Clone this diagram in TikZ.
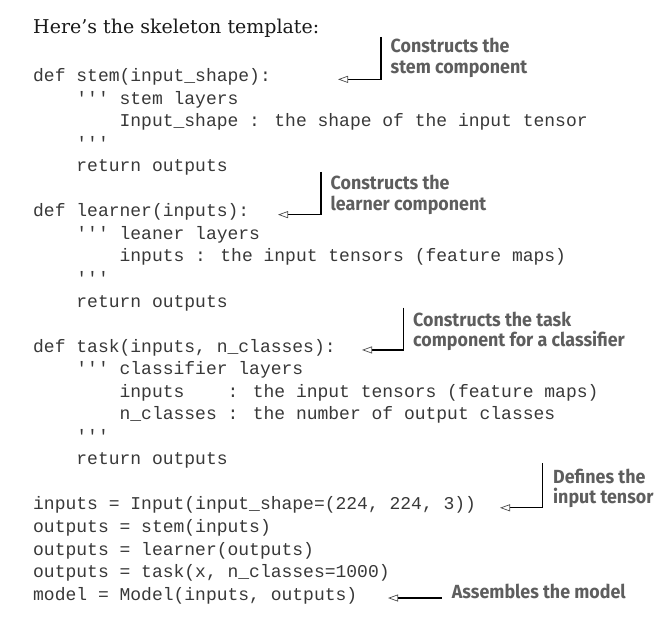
\documentclass[tikz,border=0pt]{standalone}
\usepackage{fontspec}
\usetikzlibrary{arrows.meta}
\newfontfamily\codefont{Liberation Mono}
\newfontfamily\notefont[FakeStretch=0.94]{Fira Sans}
\newfontfamily\titlefont{DejaVu Serif}
\definecolor{codecolor}{rgb}{0.22,0.22,0.22}
\definecolor{notecolor}{rgb}{0.37,0.37,0.37}
\definecolor{titlecolor}{rgb}{0.10,0.10,0.10}
\newlength{\du}
\setlength{\du}{1bp}
\tikzset{
  code/.style={anchor=base west,inner sep=0pt,text=codecolor,font=\codefont\fontsize{18bp}{22bp}\selectfont},
  note/.style={anchor=base west,inner sep=0pt,align=left,text=notecolor,font=\notefont\bfseries\fontsize{19bp}{20.5bp}\selectfont},
  noteline/.style={draw=black,line width=1.2bp,-{Triangle[open,length=10bp,width=7bp,line width=0.7bp,color=black!70]}}
}

\begin{document}
\begin{tikzpicture}
\pgftransformyscale{-1.000000}
\useasboundingbox (0\du,0\du) rectangle (663\du,621\du);
% title
\node[anchor=base west,inner sep=0pt,text=titlecolor,font=\titlefont\fontsize{19bp}{22bp}\selectfont] (title) at (33\du,33.3\du){Here’s the skeleton template:};
% stem
\node[code] (c0) at (33\du,81.5\du){def stem(input\_shape):};
\node[code] (c1) at (76.2\du,104.05\du){''' stem layers};
\node[code] (c2) at (119.4\du,126.6\du){Input\_shape : the shape of the input tensor};
\node[code] (c3) at (76.2\du,149.15\du){'''};
\node[code] (c4) at (76.2\du,171.7\du){return outputs};
% learner
\node[code] (c6) at (33\du,216.8\du){def learner(inputs):};
\node[code] (c7) at (76.2\du,239.35\du){''' leaner layers};
\node[code] (c8) at (119.4\du,261.9\du){inputs : the input tensors (feature maps)};
\node[code] (c9) at (76.2\du,284.45\du){'''};
\node[code] (c10) at (76.2\du,307.0\du){return outputs};
% task
\node[code] (c12) at (33\du,352.1\du){def task(inputs, n\_classes):};
\node[code] (c13) at (76.2\du,374.65\du){''' classifier layers};
\node[code] (c14) at (119.4\du,397.2\du){inputs~~~~: the input tensors (feature maps)};
\node[code] (c15) at (119.4\du,419.75\du){n\_classes : the number of output classes};
\node[code] (c16) at (76.2\du,442.3\du){'''};
\node[code] (c17) at (76.2\du,464.85\du){return outputs};
% model
\node[code] (c19) at (33\du,509.95\du){inputs = Input(input\_shape=(224, 224, 3))};
\node[code] (c20) at (33\du,532.5\du){outputs = stem(inputs)};
\node[code] (c21) at (33\du,555.05\du){outputs = learner(outputs)};
\node[code] (c22) at (33\du,577.6\du){outputs = task(x, n\_classes=1000)};
\node[code] (c23) at (33\du,600.15\du){model = Model(inputs, outputs)};
% notes (base = last line)
\node[note] (nstem) at (390.5\du,73.5\du){Constructs the\\stem component};
\node[note] (nlearner) at (330.5\du,210.5\du){Constructs the\\learner component};
\node[note] (ntask) at (413\du,346.5\du){Constructs the task\\component for a classifier};
\node[note] (ninput) at (553\du,503.5\du){Defines the\\input tensor};
\node[note] (nmodel) at (451.7\du,598\du){Assembles the model};
% connectors
\coordinate (kstem) at (381\du,37\du);
\coordinate (tstem) at (338\du,0\du);
\draw[noteline] (kstem) |- (tstem |- c0.mid);
\coordinate (klearner) at (321\du,172\du);
\coordinate (tlearner) at (278\du,0\du);
\draw[noteline] (klearner) |- (tlearner |- c6.mid);
\coordinate (ktask) at (403.5\du,307.5\du);
\coordinate (ttask) at (362\du,0\du);
\draw[noteline] (ktask) |- (ttask |- c12.mid);
\coordinate (kinput) at (542.5\du,463\du);
\coordinate (tinput) at (500\du,0\du);
\draw[noteline] (kinput) |- (tinput |- c19.mid);
\coordinate (kmodel) at (441.5\du,0\du);
\coordinate (tmodel) at (388\du,0\du);
\draw[noteline] (kmodel |- c23.mid) -- (tmodel |- c23.mid);
\end{tikzpicture}
\end{document}
